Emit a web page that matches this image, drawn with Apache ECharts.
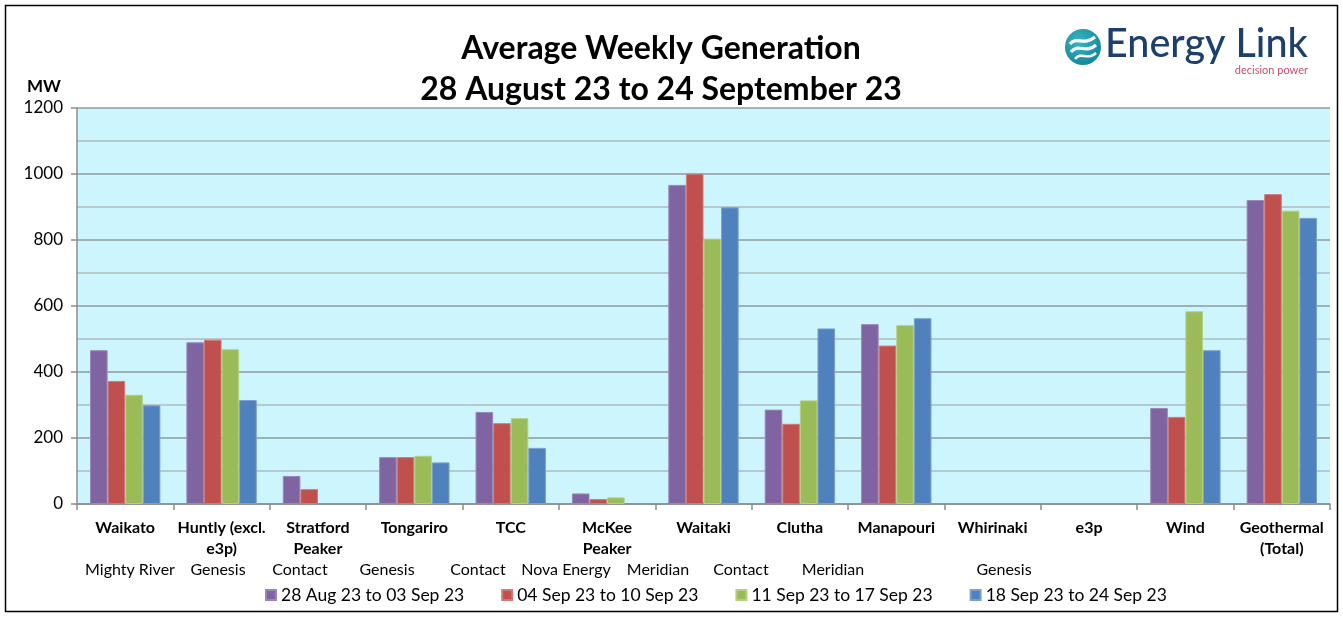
<!DOCTYPE html>
<html><head><meta charset="utf-8">
<script src="https://cdn.jsdelivr.net/npm/echarts@6/dist/echarts.min.js"></script>
<style>html,body{margin:0;padding:0;background:#fff}#c{width:1343px;height:617px}</style>
</head><body><div id="c"></div>
<script>
var categories = ['Waikato','Huntly (excl.\ne3p)','Stratford\nPeaker','Tongariro','TCC','McKee\nPeaker','Waitaki','Clutha','Manapouri','Whirinaki','e3p','Wind','Geothermal\n(Total)'];
var seriesNames = ['28 Aug 23 to 03 Sep 23','04 Sep 23 to 10 Sep 23','11 Sep 23 to 17 Sep 23','18 Sep 23 to 24 Sep 23'];
var week1 = [466, 490, 85, 142, 279, 32, 967, 286, 545, 0, 0, 291, 921];
var week2 = [373, 498, 45, 142, 245, 15, 1001, 243, 480, 0, 0, 264, 939];
var week3 = [331, 469, 0, 146, 260, 20, 804, 314, 542, 0, 0, 584, 889];
var week4 = [299, 315, 0, 126, 170, 0, 899, 532, 563, 0, 0, 466, 867];
var owners = ['Mighty River','Genesis','Contact','Genesis','Contact','Nova Energy','Meridian','Contact','Meridian','Genesis'];
var yTicks = [0, 200, 400, 600, 800, 1000, 1200];

var ownerX = [130, 218, 300, 387, 478, 566, 658, 741, 833, 1004];
var colors = ['#8064A2','#C0504D','#9BBB59','#4F81BD'];
var borders = ['#9a86b8','#d07a78','#b4cf80','#7aa0d0'];
var font = 'Lato, "Open Sans", sans-serif';

var chart = echarts.init(document.getElementById('c'));
var data = [week1, week2, week3, week4];
var graphics = [
  {type:'rect', shape:{x:5.5,y:5.5,width:1332,height:606}, style:{fill:null, stroke:'#000', lineWidth:1.5}, silent:true},
  {type:'text', left:27, top:78, style:{text:'MW', font:'bold 17px '+font, fill:'#000'}},
  // logo
  {type:'circle', shape:{cx:1083, cy:47, r:18}, style:{fill:new echarts.graphic.RadialGradient(0.4,0.35,0.8,[{offset:0,color:'#3bb6c6'},{offset:1,color:'#0b7d93'}])}},
  {type:'bezierCurve', shape:{x1:1070,y1:44,cpx1:1076,cpy1:36,cpx2:1084,cpy2:46,x2:1095,y2:37}, style:{stroke:'#fff', lineWidth:3.2, fill:null}},
  {type:'bezierCurve', shape:{x1:1071,y1:52,cpx1:1078,cpy1:43,cpx2:1086,cpy2:54,x2:1096,y2:45}, style:{stroke:'#fff', lineWidth:3.2, fill:null}},
  {type:'bezierCurve', shape:{x1:1075,y1:59,cpx1:1081,cpy1:51,cpx2:1088,cpy2:61,x2:1096,y2:53}, style:{stroke:'#fff', lineWidth:2.6, fill:null}},
  {type:'text', left:1105, top:24, style:{text:'Energy Link', font:'500 39.5px '+font, fill:'#1d3f6e'}},
  {type:'text', right:1343-1308, top:65, style:{text:'decision power', font:'11px '+font, fill:'#c64f6a'}}
];
owners.forEach(function(o,i){
  graphics.push({type:'text', x:ownerX[i], y:570, style:{text:o, font:'16px '+font, fill:'#000', align:'center', verticalAlign:'middle'}});
});

var series = seriesNames.map(function(n,i){
  return {name:n, type:'bar', barGap:'0%', barCategoryGap:'27%',
    data:data[i].map(function(v){ return v > 0 ? v : {value:v, itemStyle:{borderWidth:0}}; }),
    itemStyle:{color:colors[i], borderColor:borders[i], borderWidth:1}, emphasis:{disabled:true}};
});

chart.setOption({
  animation:false,
  textStyle:{fontFamily:font},
  title:{text:'Average Weekly Generation\n28 August 23 to 24 September 23', left:656, textAlign:'center', top:23,
    textStyle:{fontSize:32, fontWeight:'bold', color:'#000', lineHeight:41, fontFamily:font}},
  legend:{bottom:8, left:260, itemWidth:10, itemHeight:10, itemGap:37, icon:'rect',
    textStyle:{fontSize:17.5, color:'#000', fontFamily:font}, data:seriesNames},
  grid:{left:77, right:13, top:108, bottom:113, show:true, backgroundColor:'#CCF5FD', borderWidth:0},
  xAxis:{type:'category', data:categories,
    axisLine:{lineStyle:{color:'#8c8c8c', width:1.5}},
    axisTick:{show:true, length:6, lineStyle:{color:'#8c8c8c', width:1.5}},
    axisLabel:{interval:0, fontSize:16, fontWeight:'bold', color:'#000', lineHeight:21, margin:13, fontFamily:font}},
  yAxis:{type:'value', min:yTicks[0], max:yTicks[yTicks.length-1], interval:200,
    axisLine:{show:true, lineStyle:{color:'#8c8c8c', width:1.5}},
    axisTick:{show:true, length:6, lineStyle:{color:'#8c8c8c', width:1.5}},
    axisLabel:{fontSize:17, color:'#000', margin:14, fontFamily:font, formatter:function(v){return String(v);}},
    splitLine:{lineStyle:{color:'#8f9a9c', width:1.5}},
    minorTick:{show:false, splitNumber:2},
    minorSplitLine:{show:true, lineStyle:{color:'#adbcbf', width:1.5}}},
  series:series,
  graphic:graphics
});
</script></body></html>
